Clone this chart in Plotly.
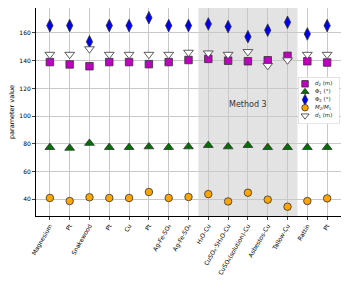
import plotly.graph_objects as go

categories = ["Magnesium", "Pt", "Snakewood", "Pt", "Cu", "Pt", "Ag-Fe-SO₄", "Ag-Fe-SO₄",
              "H₂O-Cu", "CuSO₄·5H₂O-Cu", "CuSO₄(solution)-Cu", "Asbestos-Cu", "Tallow-Cu", "Rattin", "Pt"]
d2 = [139, 137.3, 136, 139, 139, 137.5, 139, 140.5, 141.3, 140, 139.6, 140.3, 143.5, 139.6, 138.7]
phi1 = [77.5, 77, 80.5, 77.5, 77.5, 78, 77.5, 78, 79, 78, 79, 77.5, 77.5, 77.5, 77.5]
phi2 = [165.3, 165.3, 153.7, 165.3, 165.3, 171, 165.3, 165.3, 166.5, 164.6, 157.3, 162, 167.7, 159.3, 165.3]
m_ratio = [41, 38.8, 41.5, 41, 41, 45.3, 41, 41.7, 43.8, 38.5, 44.8, 39.8, 34.7, 38.8, 40.7]
d1 = [144.5, 144.5, 148.5, 144.5, 144.5, 144.5, 144.5, 146, 145.5, 144.5, 146.5, 136.5, 140.5, 144.5, 144.5]
y_ticks = [40, 60, 80, 100, 120, 140, 160]

series_names = ["<i>d</i><sub>2</sub> (m)", "Φ<sub>1</sub> (°)", "Φ<sub>2</sub> (°)",
                "<i>M</i><sub>2</sub>/<i>M</i><sub>1</sub>", "<i>d</i><sub>1</sub> (m)"]
series_values = [d2, phi1, phi2, m_ratio, d1]
symbols = ["square", "triangle-up", "diamond-tall", "circle", "triangle-down"]
colors = ["#c000c0", "#007000", "#0000ee", "#ffa500", "white"]
sizes = [7.5, 8.5, 9, 7.5, 8.5]
legend_sizes = [6.5, 7, 8, 6.5, 7]

x = list(range(len(categories)))
line = dict(color="#333333", width=0.8)

fig = go.Figure()
for name, vals, sym, col, sz in zip(series_names, series_values, symbols, colors, sizes):
    fig.add_trace(go.Scatter(x=x, y=vals, mode="markers", name=name, showlegend=False,
                             marker=dict(symbol=sym, size=sz, color=col, line=line)))

# compact legend drawn on an overlay axis (unit box)
n = len(series_names)
fig.add_trace(go.Scatter(x=[0, 1, 1, 0, 0], y=[0, 0, 1, 1, 0], mode="lines", fill="toself",
                         fillcolor="white", line=dict(color="#c8c8c8", width=1),
                         xaxis="x2", yaxis="y2", showlegend=False, hoverinfo="skip",
                         cliponaxis=False))
rows = [1 - (i + 0.85) / (n + 0.9) for i in range(n)]
for i in range(n):
    fig.add_trace(go.Scatter(x=[0.17], y=[rows[i]], mode="markers", xaxis="x2", yaxis="y2",
                             showlegend=False, hoverinfo="skip",
                             marker=dict(symbol=symbols[i], size=legend_sizes[i], color=colors[i], line=line)))
    fig.add_annotation(x=0.36, y=rows[i], xref="x2", yref="y2", text=series_names[i],
                       showarrow=False, xanchor="left", font=dict(size=5.5, color="#222222"))

fig.add_shape(type="rect", xref="x", yref="paper", x0=7.5, x1=12.5, y0=0, y1=1,
              fillcolor="#e3e3e3", line=dict(width=0), layer="below")
fig.add_annotation(x=10, y=108.5, text="Method 3", showarrow=False,
                   font=dict(size=8, color="#333333"))

# the page body adds an 8px offset; size/margins compensate so the plot area
# lands at x 36..341, y 8..216 of the 349x290 window
fig.update_layout(
    width=341, height=282,
    margin=dict(l=28, r=8, t=0, b=74),
    paper_bgcolor="white", plot_bgcolor="white",
    font=dict(family="DejaVu Sans", size=6, color="black"),
    showlegend=False,
    xaxis2=dict(domain=[0.859, 0.995], range=[0, 1], anchor="y2", visible=False,
                showgrid=False, zeroline=False),
    yaxis2=dict(domain=[0.442, 0.668], range=[0, 1], anchor="x2", visible=False,
                showgrid=False, zeroline=False),
    xaxis=dict(range=[-0.7, 14.7], tickmode="array", tickvals=x, ticktext=categories,
               tickangle=-60, showgrid=True, gridcolor="#c8c8c8", gridwidth=1,
               showline=True, linecolor="black", linewidth=1, mirror=True,
               ticks="outside", ticklen=3, tickfont=dict(size=6), zeroline=False,
               automargin=False),
    yaxis=dict(range=[28, 178], tickmode="array", tickvals=y_ticks,
               showgrid=True, gridcolor="#c8c8c8", gridwidth=1,
               showline=True, linecolor="black", linewidth=1, mirror=True,
               ticks="outside", ticklen=3, tickfont=dict(size=6), zeroline=False,
               automargin=False,
               title=dict(text="parameter value", font=dict(size=6.5), standoff=6)),
)

fig.write_html("out.html")
